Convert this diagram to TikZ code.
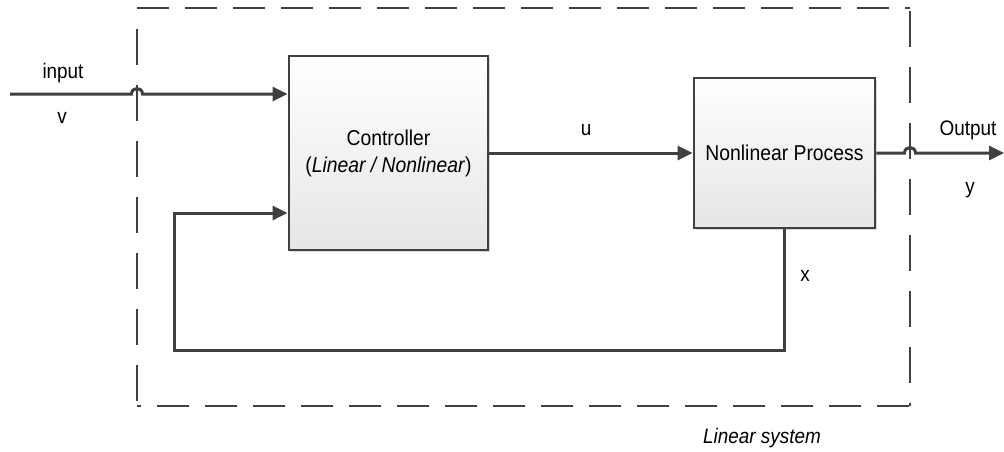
\documentclass[tikz,border=0pt]{standalone}
\usepackage{fontspec}
\setmainfont{Liberation Sans}[FakeStretch=0.9]
\usetikzlibrary{arrows.meta,shadows}
\definecolor{ln}{HTML}{404040}
\begin{document}
\begin{tikzpicture}[x=1pt,y=-1pt,
  blk/.style={draw=ln, line width=2.8pt, top color=white, bottom color=black!10,
    drop shadow={shadow xshift=2pt,shadow yshift=-2pt,fill=black!30,opacity=0.5},
    align=center, font=\fontsize{21.5}{27}\selectfont, inner sep=0pt},
  wire/.style={draw=ln, line width=3pt},
  arr/.style={wire, -{Triangle[length=15pt,width=14pt]}},
  lbl/.style={font=\fontsize{21}{24}\selectfont, inner sep=0pt},
  hframe/.style={draw=ln, line width=2.5pt, dash pattern=on 32pt off 16pt},
  vframe/.style={draw=ln, line width=2.5pt, dash pattern=on 36pt off 20pt}
]
\useasboundingbox (0,0) rectangle (1004,451);
% frame
\coordinate (f1) at (137,8);
\coordinate (f2) at (910,8);
\coordinate (f3) at (910,406);
\coordinate (f4) at (137,406);
\draw[hframe] (f1) -- (f2);
\draw[hframe, dash phase=28pt] (f4) -- (f3);
\draw[vframe] (137,29) -- (f4);
\draw[vframe] (910,11) -- (f3);
% blocks
\node[blk, minimum width=199pt, minimum height=194pt] (ctrl) at (388.5,153)
  {Controller\\(\textit{Linear / Nonlinear})};
\node[blk, minimum width=181pt, minimum height=150pt] (np) at (784.5,153)
  {Nonlinear Process};
% wires
\coordinate (vin) at (10,94);
\coordinate (yout) at (1004,153);
\coordinate (fb) at (174,350);
\coordinate (fbt) at (174,213);
\draw[arr] (vin) -- (131.5,94) .. controls (131.5,86.7) and (142.5,86.7) .. (142.5,94) -- (ctrl.west |- vin);
\draw[arr] (ctrl.east) -- (np.west);
\draw[arr] (np.east) -- (904.5,153) .. controls (904.5,145.7) and (915.5,145.7) .. (915.5,153) -- (yout);
\draw[arr] (np.south) |- (fb) -- (fbt) -- (ctrl.west |- fbt);
% labels
\node[lbl, anchor=base] (linput) at (63,78) {input};
\node[lbl, anchor=base] (lv) at (62,123) {v};
\node[lbl, anchor=base] (lu) at (586,135) {u};
\node[lbl, anchor=base] (lout) at (968,135) {Output};
\node[lbl, anchor=base] (ly) at (970,193) {y};
\node[lbl, anchor=base] (lx) at (805,281) {x};
\node[lbl, anchor=base] (lsys) at (762,443) {\itshape Linear system};
\end{tikzpicture}
\end{document}
